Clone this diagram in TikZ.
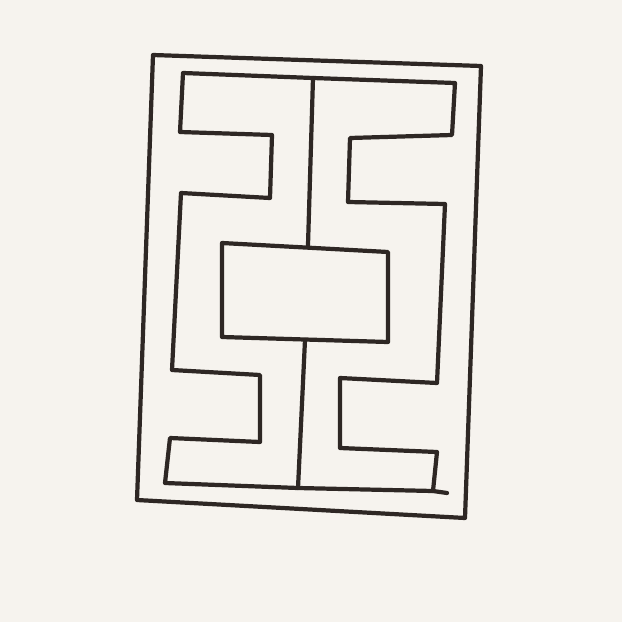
\documentclass[tikz,border=0pt]{standalone}
\usepackage{xcolor}
\usetikzlibrary{calc}
\definecolor{paper}{HTML}{F6F3EE}
\definecolor{ink}{HTML}{2E2724}

\begin{document}
\begin{tikzpicture}[x=0.02cm, y=-0.02cm,
  pen/.style={draw=ink, line width=2.4pt, line join=round, line cap=round}]
% Paper
\fill[paper] (0,0) rectangle (622,622);
\useasboundingbox (0,0) rectangle (622,622);

% Outer frame
\draw[pen] (153,55) -- (481,66) -- (465,518) -- (137,500) -- cycle;

% Fret outline
\coordinate (topmid) at (313,78);
\coordinate (botmid) at (298,488);
\draw[pen] (183,73) -- (topmid) -- (455,83) -- (452,135) -- (350,138) -- (348,202)
  -- (445,204) -- (437,383) -- (340,378) -- (340,448) -- (437,452) -- (433,491)
  -- (botmid) -- (165,483) -- (170,438) -- (260,442) -- (260,375) -- (172,370)
  -- (181,193) -- (270,198) -- (272,135) -- (180,132) -- cycle;
\draw[pen] (433,491) -- (447,493);

% Centre panel
\draw[pen] (222,243) -- (388,252) -- (388,342) -- (222,337) -- cycle;
\coordinate (paneltop) at (308,245);
\coordinate (panelbot) at (305,340);

% Stems
\draw[pen] (topmid) -- (paneltop);
\draw[pen] (panelbot) -- (botmid);

\end{tikzpicture}
\end{document}
